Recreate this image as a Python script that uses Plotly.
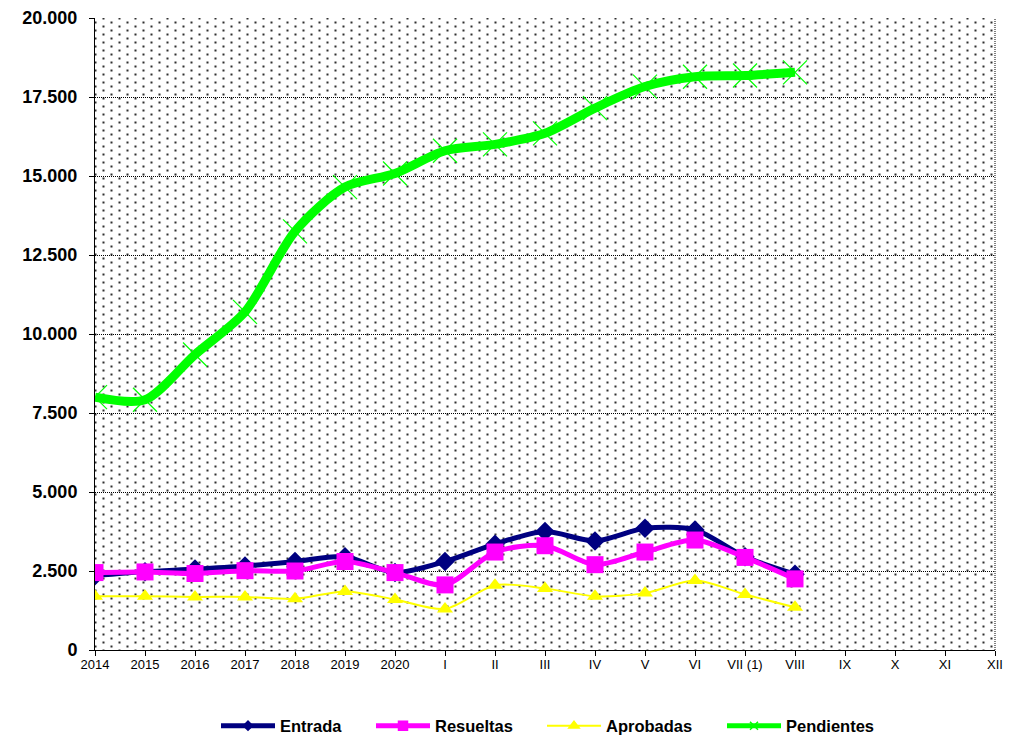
import plotly.graph_objects as go

categories = ["2014", "2015", "2016", "2017", "2018", "2019", "2020",
              "I", "II", "III", "IV", "V", "VI", "VII (1)", "VIII",
              "IX", "X", "XI", "XII"]
data_categories = categories[:15]

entrada = [2350, 2480, 2560, 2660, 2800, 2950, 2450, 2800, 3350, 3750, 3450, 3850, 3800, 2950, 2400]
resueltas = [2450, 2470, 2420, 2510, 2500, 2800, 2450, 2060, 3100, 3300, 2700, 3100, 3480, 2930, 2250]
aprobadas = [1700, 1700, 1680, 1680, 1620, 1850, 1600, 1300, 2050, 1950, 1700, 1800, 2200, 1760, 1350]
pendientes = [8000, 7920, 9350, 10700, 13250, 14650, 15080, 15800, 16000, 16350, 17150, 17830, 18140, 18180, 18280]

y_ticks = [0, 2500, 5000, 7500, 10000, 12500, 15000, 17500, 20000]

FONT = "Liberation Sans, Arial, sans-serif"

# ---- page geometry (pixels); the page body adds an 8px offset ----
PAGE_OFF = 8
W, H = 1025 - PAGE_OFF, 735 - PAGE_OFF
PLOT_L, PLOT_T = 95 - PAGE_OFF, 18 - PAGE_OFF     # plot area top-left
PLOT_R, PLOT_B = 995 - PAGE_OFF, 650 - PAGE_OFF   # plot area bottom-right
TILE = 16
ML, MT = PLOT_L - TILE, 0                         # paper area
MR, MB = W - PLOT_R, H - PLOT_B
PW, PH = W - ML - MR, H - MT - MB
LEGEND_Y = 726 - PAGE_OFF

fig = go.Figure()
layout_axes = {}

# ---- staggered dot texture: 4 pattern layers offset inside the tile ----
offsets = [(0.5, 0.5), (8.5, 4.5), (0.5, 8.5), (8.5, 12.5)]
for i, (ox, oy) in enumerate(offsets, start=1):
    sx = "" if i == 1 else str(i)
    x0 = (PLOT_L + ox - ML) % TILE       # subplot origin relative to paper
    y0 = (PLOT_T + oy - MT) % TILE
    layout_axes["xaxis" + sx] = dict(domain=[x0 / PW, 1], range=[x0, PW],
                                     visible=False, fixedrange=True, anchor="y" + sx)
    layout_axes["yaxis" + sx] = dict(domain=[0, (PH - y0) / PH], range=[0, PH - y0],
                                     visible=False, fixedrange=True, anchor="x" + sx)
    rx0, rx1 = PLOT_L - ML, PLOT_R - ML
    ry0, ry1 = 0, PLOT_B - PLOT_T
    fig.add_trace(go.Scatter(
        x=[rx0, rx1, rx1, rx0, rx0], y=[ry0, ry0, ry1, ry1, ry0],
        xaxis="x" + sx, yaxis="y" + sx,
        mode="lines", line=dict(width=0), fill="toself",
        fillcolor="rgba(0,0,0,0)",
        fillpattern=dict(shape=".", size=TILE, solidity=0.015, fgcolor="black",
                         bgcolor="rgba(0,0,0,0)", fgopacity=1),
        showlegend=False, hoverinfo="skip"))

# ---- data traces on main subplot x5/y5 ----
common = dict(xaxis="x5", yaxis="y5", showlegend=False)
fig.add_trace(go.Scatter(
    x=data_categories, y=entrada, name="Entrada", mode="lines+markers",
    line=dict(color="#000080", width=5, shape="spline", smoothing=0.8),
    marker=dict(symbol="diamond", size=15, color="#000080"), **common))
fig.add_trace(go.Scatter(
    x=data_categories, y=resueltas, name="Resueltas", mode="lines+markers",
    line=dict(color="#FF00FF", width=5, shape="spline", smoothing=0.8),
    marker=dict(symbol="square", size=17, color="#FF00FF"), **common))
fig.add_trace(go.Scatter(
    x=data_categories, y=aprobadas, name="Aprobadas", mode="lines+markers",
    line=dict(color="#FFFF00", width=2, shape="spline", smoothing=0.8),
    marker=dict(symbol="triangle-up", size=14, color="#FFFF00"), **common))
fig.add_trace(go.Scatter(
    x=data_categories, y=pendientes, name="Pendientes", mode="lines+markers",
    line=dict(color="#00FF00", width=9, shape="spline", smoothing=0.8),
    marker=dict(symbol="x-thin", size=24, color="#00FF00",
                line=dict(color="#00FF00", width=1.2)), **common))

# ---- legend entries (small markers, like the original) ----
legend_items = [
    ("Entrada", "#000080", 5, "diamond", 7, "legend", 216),
    ("Resueltas", "#FF00FF", 5, "square", 9, "legend2", 371),
    ("Aprobadas", "#FFFF00", 2, "triangle-up", 9, "legend3", 542),
    ("Pendientes", "#00FF00", 5, "x-thin", 8, "legend4", 722),
]
legend_layouts = {}
for name, col, lw, sym, ms, lg, px in legend_items:
    fig.add_trace(go.Scatter(
        x=[None], y=[None], xaxis="x5", yaxis="y5", name=name, mode="lines+markers",
        line=dict(color=col, width=lw),
        marker=dict(symbol=sym, size=ms, color=col, line=dict(color=col, width=1.5)),
        legend=lg, showlegend=True, hoverinfo="skip"))
    legend_layouts[lg] = dict(
        orientation="h", x=(px - PAGE_OFF - ML) / PW, xanchor="left",
        y=-(LEGEND_Y - PLOT_B) / PH, yanchor="middle",
        itemwidth=54, borderwidth=0, bgcolor="rgba(0,0,0,0)",
        font=dict(family=FONT, size=16.5, color="black", weight="bold"))

main_x0 = (PLOT_L - ML) / PW
main_y1 = (PLOT_B - PLOT_T) / PH
layout_axes["xaxis5"] = dict(
    domain=[main_x0, 1], anchor="y5",
    type="category", categoryorder="array", categoryarray=categories,
    range=[0, 18], showgrid=False, zeroline=False,
    showline=True, linecolor="black", linewidth=1,
    ticks="outside", ticklen=5, tickcolor="black", ticklabelstandoff=-3,
    tickfont=dict(family=FONT, size=13, color="black"))
layout_axes["yaxis5"] = dict(
    domain=[0, main_y1], anchor="x5",
    range=[0, 20000], tickvals=y_ticks, tickformat=",d",
    showgrid=True, gridcolor="black", griddash="1px,1px", gridwidth=1,
    zeroline=False, showline=True, linecolor="black", linewidth=1,
    ticks="outside", ticklen=5, tickcolor="black", ticklabelstandoff=8,
    tickfont=dict(family=FONT, size=18, color="black", weight="bold"))

fig.update_layout(
    width=W, height=H,
    margin=dict(l=ML, r=MR, t=MT, b=MB, autoexpand=False),
    paper_bgcolor="white", plot_bgcolor="rgba(0,0,0,0)",
    separators=",.",
    font=dict(family=FONT, color="black"),
    **layout_axes, **legend_layouts,
    shapes=[
        dict(type="line", xref="paper", yref="paper", x0=1, x1=1, y0=0, y1=main_y1,
             line=dict(color="black", width=1, dash="1px,1px")),
    ],
)

fig.write_html("out.html")
